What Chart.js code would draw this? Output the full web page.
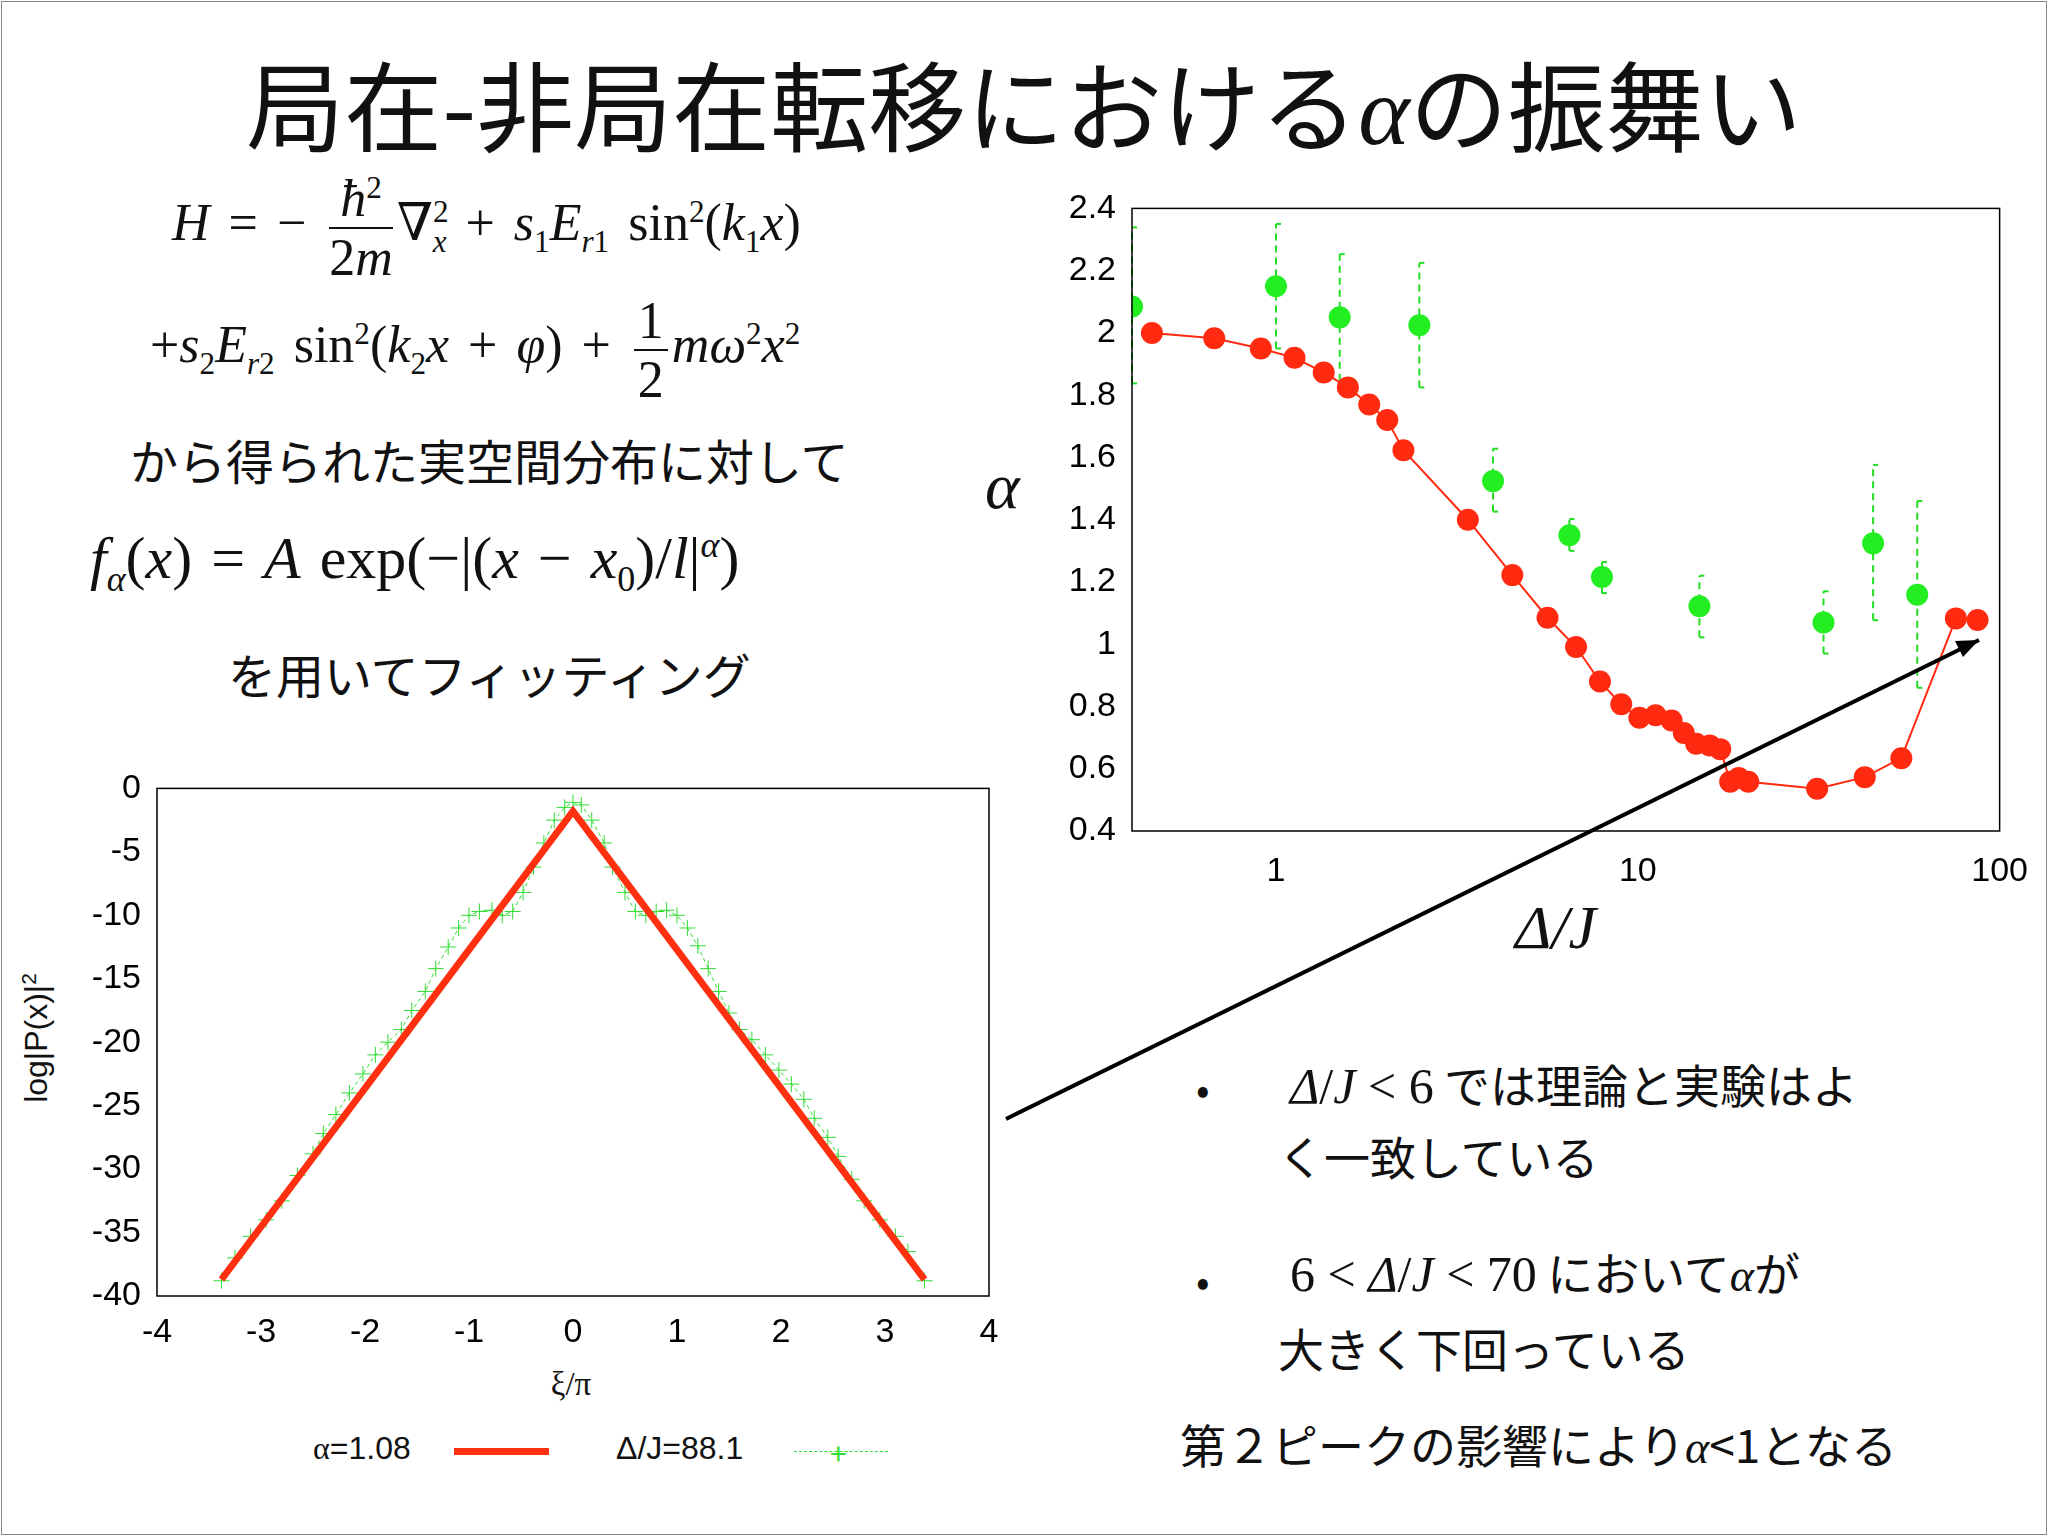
<!DOCTYPE html>
<html><head><meta charset="utf-8">
<script src="https://cdn.jsdelivr.net/npm/chart.js@4"></script>
<style>
body{margin:0;width:2048px;height:1536px;background:#fff;position:relative;overflow:hidden;font-family:"Noto Sans CJK JP","Noto Sans",sans-serif;}
#frame{position:absolute;left:1px;top:1px;width:2044px;height:1532px;border:1px solid #888;}
.t{position:absolute;white-space:nowrap;color:#111;}
.m{font-family:"Liberation Serif","DejaVu Serif",serif;}
.frac{display:inline-block;vertical-align:middle;text-align:center;margin:0 4px;}
.frac span{display:block;line-height:1.1;}
.frac .n{border-bottom:2px solid #111;padding:0 4px;}
.s{font-size:0.6em;}
canvas{position:absolute;}
</style></head><body>
<div id="frame"></div>
<div class="t" style="left:0;width:2048px;text-align:center;top:30px;font-size:98px;font-weight:400;">局在-非局在転移における<span class="m" style="font-style:italic">α</span>の振舞い</div>
<div class="t m" style="left:172px;top:170px;font-size:52px;word-spacing:6px;"><i>H</i> = − <span class="frac"><span class="n"><i>ħ</i><sup class="s">2</sup></span><span>2<i>m</i></span></span>∇<sup class="s">2</sup><sub class="s" style="margin-left:-16px"><i>x</i></sub> + <i>s</i><sub class="s">1</sub><i>E</i><sub class="s"><i>r</i>1</sub> sin<sup class="s">2</sup>(<i>k</i><sub class="s">1</sub><i>x</i>)</div>
<div class="t m" style="left:150px;top:292px;font-size:52px;word-spacing:6px;">+<i>s</i><sub class="s">2</sub><i>E</i><sub class="s"><i>r</i>2</sub> sin<sup class="s">2</sup>(<i>k</i><sub class="s">2</sub><i>x</i> + <i>φ</i>) + <span class="frac"><span class="n">1</span><span>2</span></span><i>mω</i><sup class="s">2</sup><i>x</i><sup class="s">2</sup></div>
<div class="t" style="left:130px;top:424px;font-size:48px;">から得られた実空間分布に対して</div>
<div class="t m" style="left:90px;top:524px;font-size:60px;word-spacing:4px;"><i>f</i><sub class="s"><i>α</i></sub>(<i>x</i>) = <i>A</i> exp(−|(<i>x</i> − <i>x</i><sub class="s">0</sub>)/<i>l</i>|<sup class="s"><i>α</i></sup>)</div>
<div class="t" style="left:228px;top:638px;font-size:48px;">を用いてフィッティング</div>
<div class="t m" style="left:985px;top:448px;font-size:66px;font-style:italic;">α</div>
<div class="t m" style="left:1515px;top:892px;font-size:62px;font-style:italic;">Δ/J</div>
<div class="t" style="left:1196px;top:1058px;font-size:40px;">•</div>
<div class="t" style="left:1290px;top:1050px;font-size:46px;"><span class="m" style="font-size:50px"><i>Δ</i>/<i>J</i> &lt; 6</span> では理論と実験はよ</div>
<div class="t" style="left:1278px;top:1122px;font-size:46px;">く一致している</div>
<div class="t" style="left:1196px;top:1250px;font-size:40px;">•</div>
<div class="t" style="left:1290px;top:1238px;font-size:46px;"><span class="m" style="font-size:50px">6 &lt; <i>Δ</i>/<i>J</i> &lt; 70</span> において<span class="m" style="font-style:italic">α</span>が</div>
<div class="t" style="left:1278px;top:1314px;font-size:46px;">大きく下回っている</div>
<div class="t" style="left:1180px;top:1410px;font-size:46px;">第２ピークの影響により<span class="m" style="font-style:italic">α</span>&lt;1となる</div>
<div class="t" style="top:1038px;font-size:32px;font-family:'Liberation Sans',sans-serif;transform:translate(-50%,-50%) rotate(-90deg);left:36px;">log|P(x)|<sup style="font-size:21px">2</sup></div>
<div class="t" style="left:571px;top:1366px;font-size:33px;font-family:'Liberation Serif',serif;transform:translateX(-50%);">ξ/π</div>
<div class="t" style="left:313px;top:1430px;font-size:32px;font-family:'Liberation Sans',sans-serif;"><span class="m">α</span>=1.08</div>
<div style="position:absolute;left:454px;top:1448px;width:95px;height:7px;background:#ff3010;"></div>
<div class="t" style="left:616px;top:1430px;font-size:32px;font-family:'Liberation Sans',sans-serif;">Δ/J=88.1</div>
<div style="position:absolute;left:794px;top:1451px;width:94px;border-top:1px dashed #33dd33;"></div>
<div class="t" style="left:830px;top:1430px;font-size:30px;color:#33dd33;">+</div>
<canvas id="c1" style="left:1040px;top:180px;"></canvas>
<canvas id="c2" style="left:60px;top:760px;"></canvas>
<svg style="position:absolute;left:0;top:0" width="2048" height="1536">
<line x1="1006" y1="1119" x2="1979" y2="640" stroke="#000" stroke-width="4"/>
<path d="M1979,640 L1955,641 L1963,657 z" fill="#000"/>
</svg>
<script>
const redX=[0.454,0.675,0.908,1.125,1.355,1.58,1.81,2.03,2.25,3.39,4.50,5.63,6.75,7.86,9.0,10.1,11.2,12.4,13.4,14.5,15.8,16.9,18.0,19.0,20.2,31.3,42.4,53.5,75.7,86.9];
const redY=[2.0,1.983,1.95,1.92,1.873,1.825,1.77,1.72,1.623,1.40,1.222,1.085,0.991,0.88,0.807,0.764,0.772,0.755,0.715,0.68,0.675,0.663,0.558,0.57,0.558,0.536,0.573,0.634,1.083,1.078];
const grnX=[0.4,1.0,1.5,2.49,3.98,6.47,7.96,14.8,32.6,44.7,59.2];
const grnY=[2.085,2.15,2.05,2.025,1.524,1.35,1.216,1.122,1.07,1.324,1.159];
const grnLo=[1.838,1.95,1.846,1.825,1.426,1.30,1.164,1.022,0.97,1.077,0.86];
const grnHi=[2.339,2.35,2.253,2.225,1.628,1.402,1.264,1.22,1.17,1.576,1.46];
const fitX=[-3.38,0,3.38];
const fitY=[-38.7,-1.8,-38.7];
const profX=[-3.38,-3.25,-3.1,-2.95,-2.8,-2.65,-2.5,-2.4,-2.28,-2.15,-2.02,-1.9,-1.78,-1.65,-1.55,-1.42,-1.32,-1.2,-1.1,-1.0,-0.9,-0.78,-0.68,-0.58,-0.48,-0.38,-0.28,-0.18,-0.08,0,0.08,0.18,0.3,0.38,0.5,0.6,0.7,0.8,0.9,1.0,1.1,1.2,1.3,1.4,1.5,1.6,1.72,1.85,1.98,2.1,2.22,2.32,2.45,2.55,2.68,2.8,2.95,3.1,3.22,3.38];
const profY=[-38.8,-37,-35.3,-34,-32.5,-30.5,-28.8,-27.2,-25.7,-24,-22.5,-21,-20,-19,-17.5,-16,-14.2,-12.5,-11,-10,-9.7,-9.6,-10,-9.7,-8.2,-6.2,-4.3,-2.5,-1.5,-1.1,-1.3,-2.5,-4.3,-6.2,-8.2,-9.7,-10,-9.7,-9.6,-10,-11,-12.4,-14.2,-16,-17.7,-19,-19.8,-21,-22.2,-23.3,-24.5,-26,-27.5,-29,-30.8,-32.5,-34,-35.3,-36.5,-38.8];
const xTicks1=[1,10,100];

Chart.defaults.font.family="'Liberation Sans',Arial,sans-serif";
Chart.defaults.color="#000";
Chart.defaults.animation=false;

const frame={id:'frame',afterDraw(c){const a=c.chartArea,x=c.ctx;x.save();x.strokeStyle='#000';x.lineWidth=1.5;x.strokeRect(a.left,a.top,a.right-a.left,a.bottom-a.top);x.restore();}};
const errbars={id:'eb',beforeDatasetsDraw(c){const x=c.ctx,sx=c.scales.x,sy=c.scales.y;x.save();x.strokeStyle='#22dd22';x.lineWidth=2;x.setLineDash([7,5]);
 grnX.forEach((v,i)=>{const px=sx.getPixelForValue(v),lo=sy.getPixelForValue(grnLo[i]),hi=sy.getPixelForValue(grnHi[i]);x.beginPath();x.moveTo(px,lo);x.lineTo(px,hi);x.stroke();});
 x.setLineDash([]);grnX.forEach((v,i)=>{const px=sx.getPixelForValue(v);[grnLo[i],grnHi[i]].forEach(y=>{const py=sy.getPixelForValue(y);x.beginPath();x.moveTo(px,py);x.lineTo(px+5,py);x.stroke();});});x.restore();}};

const c1=document.getElementById('c1');c1.width=1000;c1.height=720;
new Chart(c1,{type:'scatter',data:{datasets:[
 {data:redX.map((v,i)=>({x:v,y:redY[i]})),showLine:true,borderColor:'#ff2a10',borderWidth:2,backgroundColor:'#ff2a10',pointRadius:11,pointBorderWidth:0},
 {data:grnX.map((v,i)=>({x:v,y:grnY[i]})),backgroundColor:'#22ee22',pointRadius:11,pointBorderWidth:0}
]},options:{responsive:false,layout:{padding:{top:20,right:39}},plugins:{legend:{display:false},tooltip:{enabled:false}},
 scales:{x:{type:'logarithmic',min:0.4,max:100,grid:{display:false},border:{display:false},
   afterBuildTicks(s){s.ticks=xTicks1.map(v=>({value:v}));},
   ticks:{font:{size:34},maxRotation:0,padding:12,callback:v=>String(v)},afterFit(s){s.height=69;}},
  y:{min:0.4,max:2.4,grid:{display:false},border:{display:false},ticks:{stepSize:0.2,font:{size:34},padding:8,callback:v=>String(+v.toFixed(1))},afterFit(s){s.width=92;}}}},
 plugins:[frame,errbars]});

const c2=document.getElementById('c2');c2.width=960;c2.height=600;
new Chart(c2,{type:'scatter',data:{datasets:[
 {data:fitX.map((v,i)=>({x:v,y:fitY[i]})),showLine:true,borderColor:'#ff3010',borderWidth:7,pointRadius:0},
 {data:profX.map((v,i)=>({x:v,y:profY[i]})),showLine:true,borderColor:'#33dd33',borderWidth:1,borderDash:[4,3],pointStyle:'cross',pointRadius:8,pointBorderColor:'#33dd33',pointBorderWidth:1}
]},options:{responsive:false,layout:{padding:{top:24,right:31}},plugins:{legend:{display:false},tooltip:{enabled:false}},
 scales:{x:{min:-4,max:4,grid:{display:false},border:{display:false},ticks:{stepSize:1,font:{size:34},padding:8},afterFit(s){s.height=64;}},
  y:{min:-40,max:0,grid:{display:false},border:{display:false},ticks:{stepSize:5,font:{size:34},padding:8},afterFit(s){s.width=97;}}}},
 plugins:[frame]});
</script></body></html>
